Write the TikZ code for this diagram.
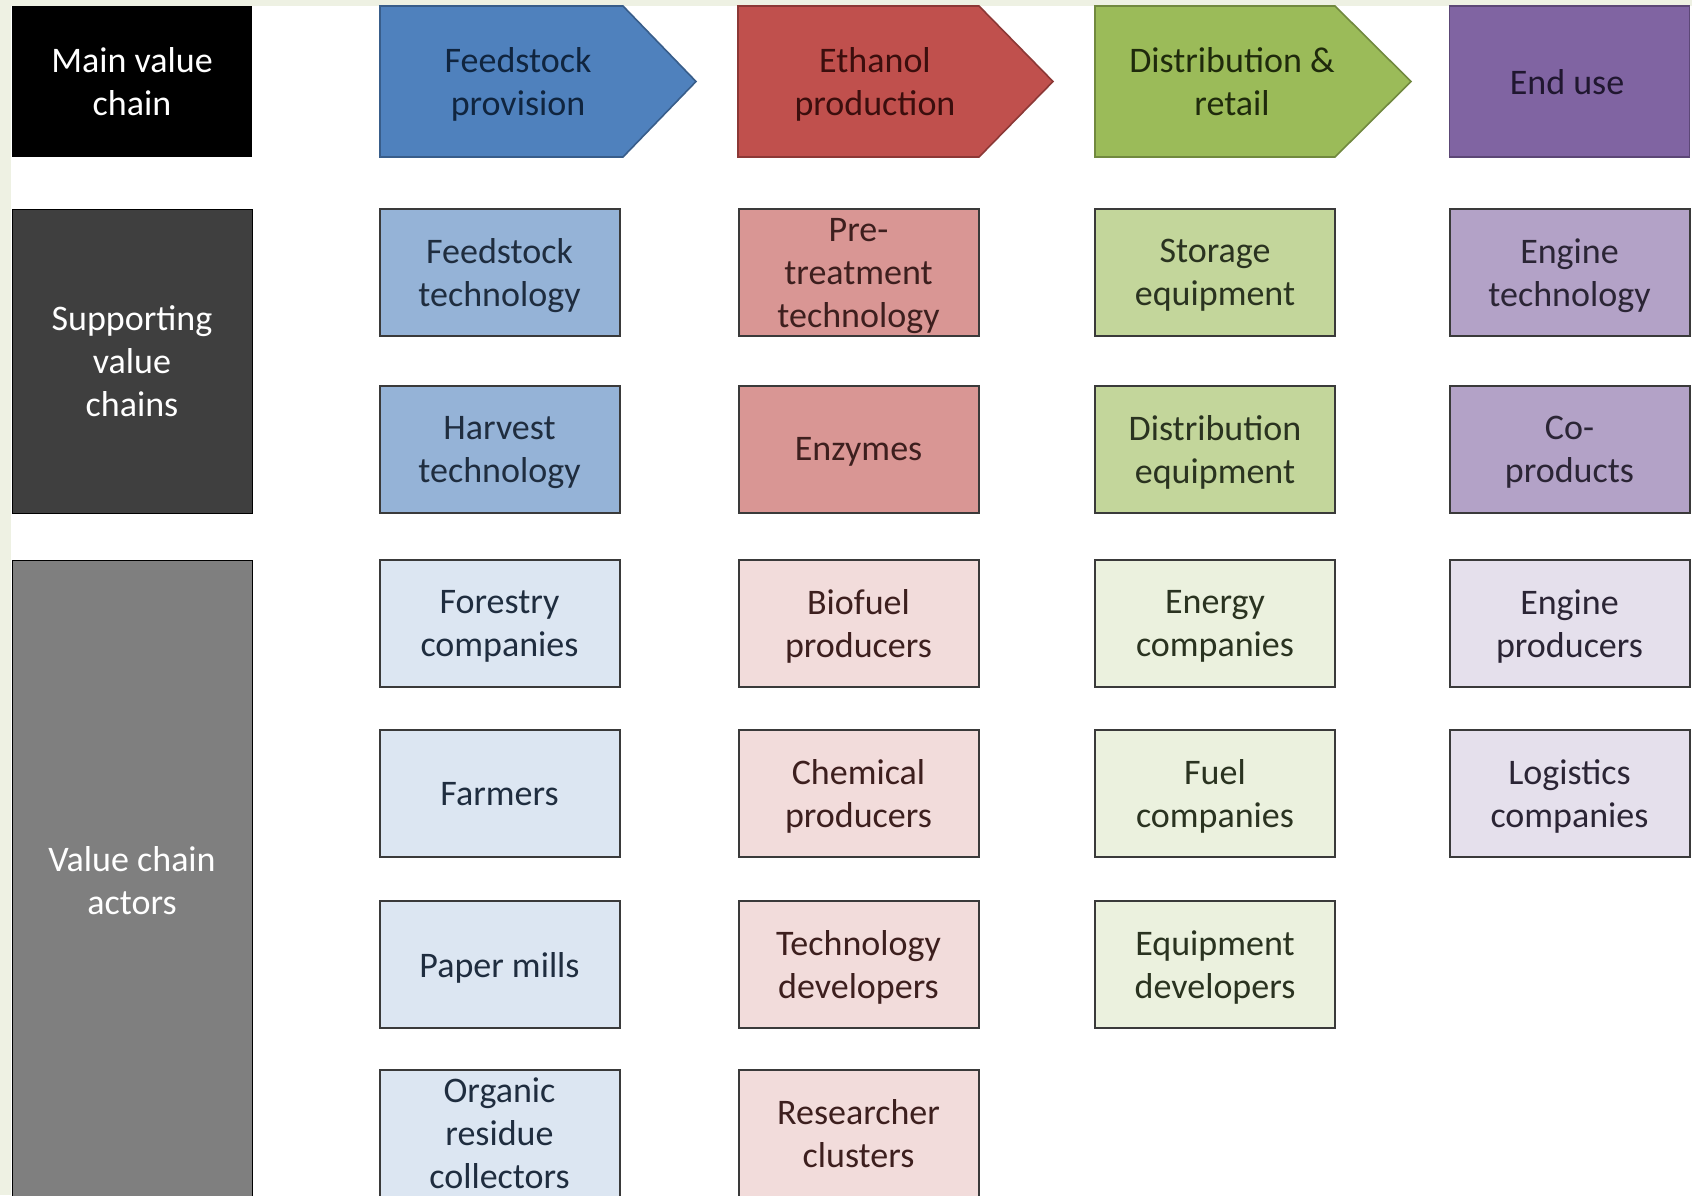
\documentclass[tikz,border=0pt]{standalone}
\usepackage{fontspec}
\setmainfont{Carlito}
\usepackage{tikz}
\usetikzlibrary{positioning}

\definecolor{cream}{HTML}{EEF1E3}
\definecolor{supgray}{HTML}{3F3F3F}
\definecolor{actgray}{HTML}{7F7F7F}
\definecolor{boxline}{HTML}{3A3A3A}
\definecolor{fblue}{HTML}{4F81BD}
\definecolor{fbluel}{HTML}{385D8A}
\definecolor{fbluet}{HTML}{10253F}
\definecolor{fred}{HTML}{C0504D}
\definecolor{fredl}{HTML}{8C3836}
\definecolor{fredt}{HTML}{3B0E0D}
\definecolor{fgreen}{HTML}{9BBB59}
\definecolor{fgreenl}{HTML}{71893F}
\definecolor{fgreent}{HTML}{1F2A0C}
\definecolor{fpurp}{HTML}{8064A2}
\definecolor{fpurpl}{HTML}{5C4776}
\definecolor{fpurpt}{HTML}{201730}
\definecolor{sblue}{HTML}{95B3D7}
\definecolor{sred}{HTML}{D99694}
\definecolor{sgreen}{HTML}{C3D69B}
\definecolor{spurp}{HTML}{B3A2C7}
\definecolor{ablue}{HTML}{DCE6F2}
\definecolor{ared}{HTML}{F2DCDB}
\definecolor{agreen}{HTML}{EBF1DE}
\definecolor{apurp}{HTML}{E5E0EC}
\definecolor{tblue}{HTML}{1F2D3F}
\definecolor{tred}{HTML}{3D1F1E}
\definecolor{tgreen}{HTML}{2A3320}
\definecolor{tpurp}{HTML}{2B2535}

\begin{document}
\begin{tikzpicture}[x=1pt,y=-1pt,
                     every node/.style={font=\fontsize{36}{43}\selectfont,align=center,inner sep=0pt,text depth=0pt},
                     tag node/.style={text=white,minimum width=240pt},
                     box node/.style={draw=boxline,line width=2pt,minimum width=240pt,minimum height=127pt},
                     head line/.style={line width=1.6pt}
                    ]
   \useasboundingbox (0,0) rectangle (1692,1195);
   \clip (0,0) rectangle (1692,1195);
   \fill[cream] (0,0) rectangle (1692,1195);
   \fill[white] (11,6) rectangle (1692,1195);

   % row labels
   \node[tag node,fill=black,minimum height=151pt] (mvc) at (132,81.5) {Main value\\chain};
   \node[tag node,fill=supgray,draw=black,line width=1pt,minimum height=304pt] (svc) at (132,361) {Supporting\\value\\chains};
   \node[tag node,fill=actgray,draw=black,line width=1pt,minimum height=640pt] (vca) at (132,880) {Value chain\\actors};

   % main value chain
   \fill[fblue] (380,6) -- (623,6) -- (696,81.5) -- (623,157) -- (380,157) -- cycle;
   \draw[head line,fbluel] (380,6) -- (623,6) -- (696,81.5) -- (623,157) -- (380,157) -- cycle;
   \fill[fred] (738,6) -- (979,6) -- (1053,81.5) -- (979,157) -- (738,157) -- cycle;
   \draw[head line,fredl] (738,6) -- (979,6) -- (1053,81.5) -- (979,157) -- (738,157) -- cycle;
   \fill[fgreen] (1095,6) -- (1335,6) -- (1411,81.5) -- (1335,157) -- (1095,157) -- cycle;
   \draw[head line,fgreenl] (1095,6) -- (1335,6) -- (1411,81.5) -- (1335,157) -- (1095,157) -- cycle;
   \node[fill=fpurp,draw=fpurpl,line width=1.6pt,minimum width=240pt,minimum height=151pt] (enduse) at (1569.5,81.5) {};
   \node[text=fbluet] (feed) at (518,81.5) {Feedstock\\provision};
   \node[text=fredt] (eth) at (875,81.5) {Ethanol\\production};
   \node[text=fgreent] (dist) at (1232,81.5) {Distribution \&\\retail};
   \node[text=fpurpt] (enduset) at (1567,81.5) {End use};

   % supporting value chains
   \node[box node,fill=sblue,text=tblue] (ftech) at (499.5,272.5) {Feedstock\\technology};
   \node[box node,fill=sblue,text=tblue] (htech) at (499.5,449) {Harvest\\technology};
   \node[box node,fill=sred,text=tred] (ptech) at (858.5,272.5) {Pre-\\treatment\\technology};
   \node[box node,fill=sred,text=tred] (enz) at (858.5,449) {Enzymes};
   \node[box node,fill=sgreen,text=tgreen] (stor) at (1215,272.5) {Storage\\equipment};
   \node[box node,fill=sgreen,text=tgreen] (dequip) at (1215,449) {Distribution\\equipment};
   \node[box node,fill=spurp,text=tpurp] (etech) at (1569.5,272.5) {Engine\\technology};
   \node[box node,fill=spurp,text=tpurp] (coprod) at (1569.5,449) {Co-\\products};

   % value chain actors
   \node[box node,fill=ablue,text=tblue] (forest) at (499.5,623.5) {Forestry\\companies};
   \node[box node,fill=ablue,text=tblue] (farm) at (499.5,793.5) {Farmers};
   \node[box node,fill=ablue,text=tblue] (paper) at (499.5,964.5) {Paper mills};
   \node[box node,fill=ablue,text=tblue] (organic) at (499.5,1133) {Organic\\residue\\collectors};
   \node[box node,fill=ared,text=tred] (biofuel) at (858.5,623.5) {Biofuel\\producers};
   \node[box node,fill=ared,text=tred] (chem) at (858.5,793.5) {Chemical\\producers};
   \node[box node,fill=ared,text=tred] (techdev) at (858.5,964.5) {Technology\\developers};
   \node[box node,fill=ared,text=tred] (research) at (858.5,1133) {Researcher\\clusters};
   \node[box node,fill=agreen,text=tgreen] (energy) at (1215,623.5) {Energy\\companies};
   \node[box node,fill=agreen,text=tgreen] (fuel) at (1215,793.5) {Fuel\\companies};
   \node[box node,fill=agreen,text=tgreen] (eqdev) at (1215,964.5) {Equipment\\developers};
   \node[box node,fill=apurp,text=tpurp] (engprod) at (1569.5,623.5) {Engine\\producers};
   \node[box node,fill=apurp,text=tpurp] (logi) at (1569.5,793.5) {Logistics\\companies};
\end{tikzpicture}
\end{document}
